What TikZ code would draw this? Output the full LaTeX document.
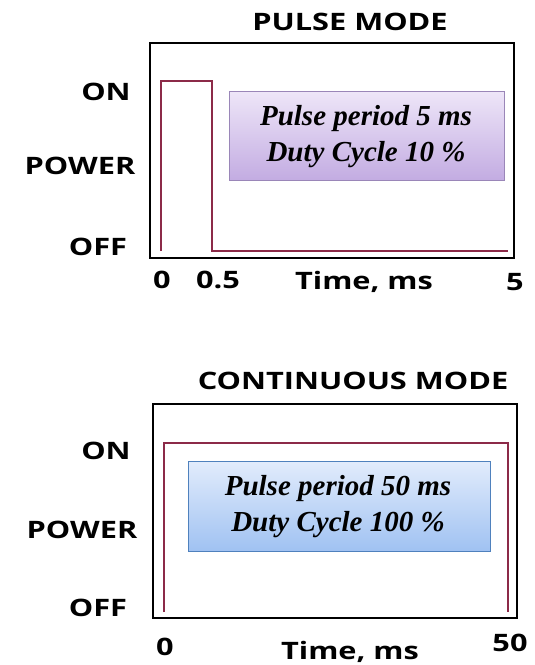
\documentclass[tikz,border=0pt]{standalone}
\usepackage{fontspec}
\newfontfamily\lblfont[FakeStretch=1.28]{Open Sans}
\newfontfamily\boxfont{Liberation Serif}
\usetikzlibrary{positioning}

\definecolor{pulsered}{HTML}{8C2A48}
\definecolor{violettop}{HTML}{EEE6F8}
\definecolor{violetbot}{HTML}{C3ACE2}
\definecolor{violetline}{HTML}{9A86B8}
\definecolor{bluetop}{HTML}{E2ECFC}
\definecolor{bluebot}{HTML}{A0C2F2}
\definecolor{blueline}{HTML}{4F81BD}

\tikzset{
  lbl/.style={font=\lblfont\bfseries\fontsize{24}{26}\selectfont, inner sep=0pt},
  frame/.style={draw=black, line width=1.8pt},
  signal/.style={draw=pulsered, line width=2pt},
  infotext/.style={font=\boxfont\bfseries\itshape\fontsize{29}{36}\selectfont, align=center},
}

\begin{document}
\begin{tikzpicture}[x=1pt,y=-1pt]
\useasboundingbox (0,0) rectangle (535,665);

% pulse mode
\node[lbl] (ptitle) at (350,22) {PULSE MODE};
\draw[frame] (150,43) rectangle (514,258);
\shade[top color=violettop, bottom color=violetbot, draw=violetline, line width=0.8pt]
  (229,91) rectangle (504,180);
\node[infotext] (pinfo) at (366,137) {Pulse period 5 ms\\Duty Cycle 10 \%};
\draw[signal] (161,251) -- (161,81) -- (212,81) -- (212,251) -- (508,251);
\node[lbl] (pon) at (106,92) {ON};
\node[lbl] (ppow) at (80,166) {POWER};
\node[lbl] (poff) at (98,247) {OFF};
\node[lbl] (pzero) at (162,280) {0};
\node[lbl] (phalf) at (218,280) {0.5};
\node[lbl] (ptime) at (364,282) {Time, ms};
\node[lbl] (pfive) at (515,282) {5};

% continuous mode
\node[lbl] (ctitle) at (353,381) {CONTINUOUS MODE};
\draw[frame] (153,404) rectangle (517,618);
\shade[top color=bluetop, bottom color=bluebot, draw=blueline, line width=0.8pt]
  (188,461) rectangle (490,551);
\node[infotext] (cinfo) at (338,507) {Pulse period 50 ms\\Duty Cycle 100 \%};
\draw[signal] (164,612) -- (164,443) -- (508,443) -- (508,612);
\node[lbl] (con) at (106,451) {ON};
\node[lbl] (cpow) at (82,530) {POWER};
\node[lbl] (coff) at (98,608) {OFF};
\node[lbl] (czero) at (165,647) {0};
\node[lbl] (ctime) at (350,652) {Time, ms};
\node[lbl] (cfifty) at (510,643) {50};
\end{tikzpicture}
\end{document}
